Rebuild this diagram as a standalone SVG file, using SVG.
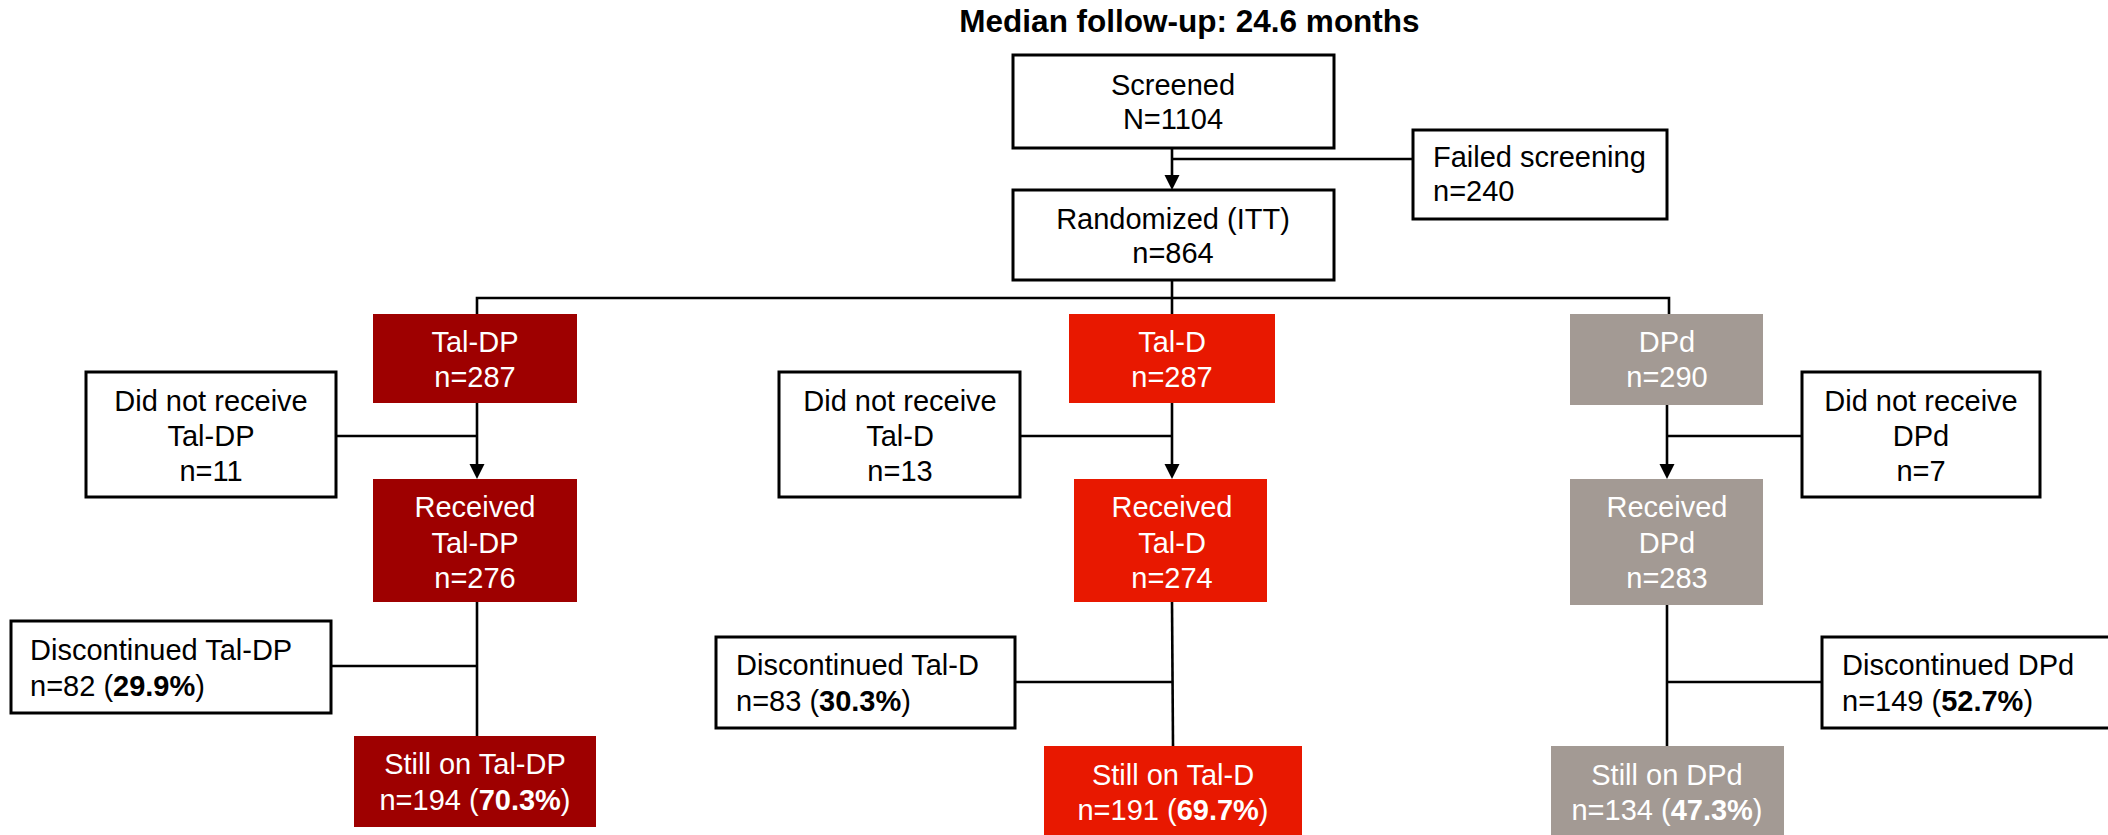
<svg xmlns="http://www.w3.org/2000/svg" width="2108" height="835" viewBox="0 0 2108 835">
<style>
text{font-family:"Liberation Sans",Arial,sans-serif;font-size:29px;fill:#000}
.c{text-anchor:middle}
.w{fill:#fff}
.b{font-weight:bold}
.box{fill:#fff;stroke:#000;stroke-width:3}
.dr{fill:#9E0000}
.rd{fill:#E81800}
.gr{fill:#A39A94}
.ln{stroke:#000;stroke-width:2.6;fill:none}
.ah{fill:#000}
</style>
<rect width="2108" height="835" fill="#fff"/>
<text id="title" x="1189.5" y="32" class="c b" style="font-size:31.5px">Median follow-up: 24.6 months</text>

<g id="connectors">
<line class="ln" x1="1172" y1="148" x2="1172" y2="176"/>
<polygon class="ah" points="1164.5,175 1179.5,175 1172,190"/>
<line class="ln" x1="1413" y1="159" x2="1172" y2="159"/>
<line class="ln" x1="1172" y1="280" x2="1172" y2="298"/>
<polyline class="ln" points="477,314 477,298 1669,298 1669,314"/>
<line class="ln" x1="1172" y1="298" x2="1172" y2="314"/>
<line class="ln" x1="477" y1="403" x2="477" y2="465"/>
<polygon class="ah" points="469.5,464 484.5,464 477,479"/>
<line class="ln" x1="336" y1="436" x2="477" y2="436"/>
<line class="ln" x1="477" y1="602" x2="477" y2="736"/>
<line class="ln" x1="331" y1="666" x2="477" y2="666"/>
<line class="ln" x1="1172" y1="403" x2="1172" y2="465"/>
<polygon class="ah" points="1164.5,464 1179.5,464 1172,479"/>
<line class="ln" x1="1020" y1="436" x2="1172" y2="436"/>
<line class="ln" x1="1172" y1="602" x2="1173" y2="746"/>
<line class="ln" x1="1015" y1="682" x2="1172" y2="682"/>
<line class="ln" x1="1667" y1="405" x2="1667" y2="465"/>
<polygon class="ah" points="1659.5,464 1674.5,464 1667,479"/>
<line class="ln" x1="1802" y1="436" x2="1667" y2="436"/>
<line class="ln" x1="1667" y1="605" x2="1667" y2="746"/>
<line class="ln" x1="1822" y1="682" x2="1667" y2="682"/>
</g>

<g id="screened">
<rect class="box" x="1013" y="55" width="321" height="93"/>
<text class="c" x="1173" y="95">Screened</text>
<text class="c" x="1173" y="129">N=1104</text>
</g>
<g id="failed">
<rect class="box" x="1413" y="130" width="254" height="89"/>
<text x="1433" y="167">Failed screening</text>
<text x="1433" y="201">n=240</text>
</g>
<g id="randomized">
<rect class="box" x="1013" y="190" width="321" height="90"/>
<text class="c" x="1173" y="229">Randomized (ITT)</text>
<text class="c" x="1173" y="263">n=864</text>
</g>

<g id="taldp">
<rect class="dr" x="373" y="314" width="204" height="89"/>
<text class="c w" x="475" y="352">Tal-DP</text>
<text class="c w" x="475" y="387">n=287</text>
</g>
<g id="notreceived-taldp">
<rect class="box" x="86" y="372" width="250" height="125"/>
<text class="c" x="211" y="411">Did not receive</text>
<text class="c" x="211" y="446">Tal-DP</text>
<text class="c" x="211" y="481">n=11</text>
</g>
<g id="received-taldp">
<rect class="dr" x="373" y="479" width="204" height="123"/>
<text class="c w" x="475" y="517">Received</text>
<text class="c w" x="475" y="553">Tal-DP</text>
<text class="c w" x="475" y="588">n=276</text>
</g>
<g id="disc-taldp">
<rect class="box" x="11" y="621" width="320" height="92"/>
<text x="30" y="660">Discontinued Tal-DP</text>
<text x="30" y="696">n=82 (<tspan class="b">29.9%</tspan>)</text>
</g>
<g id="still-taldp">
<rect class="dr" x="354" y="736" width="242" height="91"/>
<text class="c w" x="475" y="774">Still on Tal-DP</text>
<text class="c w" x="475" y="810">n=194 (<tspan class="b">70.3%</tspan>)</text>
</g>

<g id="tald">
<rect class="rd" x="1069" y="314" width="206" height="89"/>
<text class="c w" x="1172" y="352">Tal-D</text>
<text class="c w" x="1172" y="387">n=287</text>
</g>
<g id="notreceived-tald">
<rect class="box" x="779" y="372" width="241" height="125"/>
<text class="c" x="900" y="411">Did not receive</text>
<text class="c" x="900" y="446">Tal-D</text>
<text class="c" x="900" y="481">n=13</text>
</g>
<g id="received-tald">
<rect class="rd" x="1074" y="479" width="193" height="123"/>
<text class="c w" x="1172" y="517">Received</text>
<text class="c w" x="1172" y="553">Tal-D</text>
<text class="c w" x="1172" y="588">n=274</text>
</g>
<g id="disc-tald">
<rect class="box" x="716" y="637" width="299" height="91"/>
<text x="736" y="675">Discontinued Tal-D</text>
<text x="736" y="711">n=83 (<tspan class="b">30.3%</tspan>)</text>
</g>
<g id="still-tald">
<rect class="rd" x="1044" y="746" width="258" height="95"/>
<text class="c w" x="1173" y="785">Still on Tal-D</text>
<text class="c w" x="1173" y="820">n=191 (<tspan class="b">69.7%</tspan>)</text>
</g>

<g id="dpd">
<rect class="gr" x="1570" y="314" width="193" height="91"/>
<text class="c w" x="1667" y="352">DPd</text>
<text class="c w" x="1667" y="387">n=290</text>
</g>
<g id="notreceived-dpd">
<rect class="box" x="1802" y="372" width="238" height="125"/>
<text class="c" x="1921" y="411">Did not receive</text>
<text class="c" x="1921" y="446">DPd</text>
<text class="c" x="1921" y="481">n=7</text>
</g>
<g id="received-dpd">
<rect class="gr" x="1570" y="479" width="193" height="126"/>
<text class="c w" x="1667" y="517">Received</text>
<text class="c w" x="1667" y="553">DPd</text>
<text class="c w" x="1667" y="588">n=283</text>
</g>
<g id="disc-dpd">
<rect class="box" x="1822" y="637" width="300" height="91"/>
<text x="1842" y="675">Discontinued DPd</text>
<text x="1842" y="711">n=149 (<tspan class="b">52.7%</tspan>)</text>
</g>
<g id="still-dpd">
<rect class="gr" x="1551" y="746" width="233" height="95"/>
<text class="c w" x="1667" y="785">Still on DPd</text>
<text class="c w" x="1667" y="820">n=134 (<tspan class="b">47.3%</tspan>)</text>
</g>
</svg>
